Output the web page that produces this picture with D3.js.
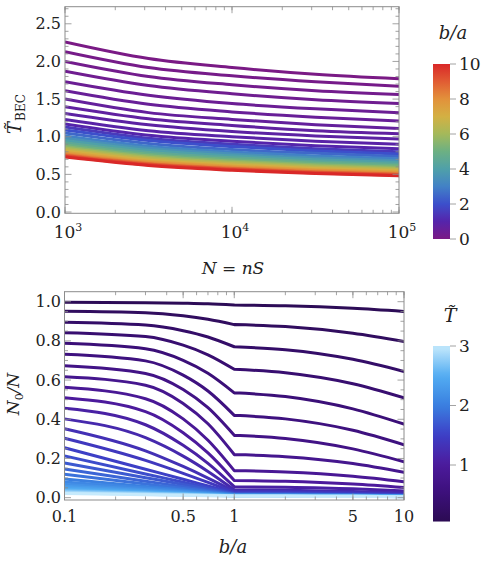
<!DOCTYPE html>
<html><head><meta charset="utf-8">
<script src="https://cdn.jsdelivr.net/npm/d3@7"></script>
<style>
body{margin:0;background:#fff}
svg text{fill:#222;font-family:"DejaVu Serif","Liberation Serif",serif}
</style>
</head><body>
<svg id="c" width="488" height="563"></svg>
<script>
// ---------- DATA: top panel ----------
const sizeN = [1000, 3162, 10000, 31623, 100000];
const ratioBA = [0,0.1,0.2,0.3,0.4,0.5,0.6,0.7,0.8,0.9,1.0,1.5,2,2.5,3,3.5,4,4.5,5,5.5,6,6.5,7,7.5,8,8.5,9,9.5,10];
const tBEC = [
[2.26,2.04,1.92,1.83,1.77],
[2.13,1.92,1.81,1.73,1.67],
[2.00,1.80,1.69,1.61,1.56],
[1.87,1.68,1.57,1.49,1.44],
[1.73,1.55,1.44,1.37,1.32],
[1.61,1.43,1.33,1.26,1.21],
[1.50,1.32,1.23,1.16,1.11],
[1.40,1.24,1.15,1.08,1.04],
[1.31,1.16,1.07,1.01,0.97],
[1.23,1.08,1.00,0.94,0.90],
[1.17,1.02,0.94,0.88,0.84],
[1.13,0.98,0.90,0.84,0.80],
[1.09,0.95,0.87,0.81,0.77],
[1.05,0.91,0.83,0.78,0.738],
[1.01,0.874,0.798,0.743,0.707],
[0.98,0.846,0.771,0.718,0.682],
[0.95,0.819,0.746,0.694,0.659],
[0.92,0.792,0.721,0.669,0.635],
[0.895,0.769,0.699,0.649,0.615],
[0.87,0.746,0.678,0.628,0.595],
[0.85,0.728,0.660,0.612,0.579],
[0.83,0.710,0.643,0.595,0.563],
[0.81,0.692,0.626,0.579,0.547],
[0.79,0.673,0.609,0.562,0.531],
[0.775,0.660,0.596,0.550,0.519],
[0.76,0.646,0.582,0.536,0.506],
[0.75,0.637,0.574,0.528,0.498],
[0.74,0.627,0.564,0.519,0.489],
[0.73,0.618,0.555,0.51,0.48]
];
const topYTicks = [0,0.5,1,1.5,2,2.5];
const topYLabels = ["0.0","0.5","1.0","1.5","2.0","2.5"];
const topXTicks = [1e3,1e4,1e5];
const topXExp = ["3","4","5"];
const cbTopTicks = [0,2,4,6,8,10];
const rainbowColors = ["#7a1a85","#5524ab","#3c4fcb","#4281c6","#4fa0a9","#6cb083","#a4b95a","#d3b043","#e2913b","#e15c33","#d92828"];

// ---------- DATA: bottom panel ----------
const tempT = [0.1,0.2,0.3,0.4,0.5,0.6,0.7,0.8,0.9,1.0,1.1,1.2,1.3,1.4,1.5,1.6,1.7,1.8,1.9,2.0,2.1,2.2,2.3,2.4,2.5,2.6,2.7,2.8,2.9,3.0];
const baLeft = [0.1,0.3,0.5,0.7,1];
const baRight = [1,2,5,10];
const n0Left = [
[0.997,0.995,0.992,0.989,0.983],
[0.951,0.944,0.928,0.910,0.883],
[0.895,0.881,0.852,0.820,0.770],
[0.842,0.822,0.778,0.729,0.655],
[0.788,0.760,0.701,0.635,0.535],
[0.732,0.698,0.625,0.544,0.420],
[0.673,0.634,0.552,0.459,0.318],
[0.617,0.574,0.481,0.377,0.220],
[0.563,0.505,0.402,0.293,0.138],
[0.510,0.439,0.331,0.228,0.088],
[0.456,0.372,0.267,0.175,0.056],
[0.402,0.306,0.212,0.134,0.040],
[0.352,0.239,0.159,0.100,0.033],
[0.303,0.190,0.124,0.078,0.028],
[0.255,0.145,0.094,0.060,0.024],
[0.213,0.121,0.079,0.051,0.021],
[0.177,0.102,0.067,0.043,0.019],
[0.146,0.084,0.056,0.037,0.017],
[0.119,0.070,0.047,0.032,0.016],
[0.095,0.057,0.039,0.027,0.015],
[0.080,0.049,0.034,0.024,0.014],
[0.068,0.042,0.030,0.022,0.013],
[0.058,0.036,0.026,0.019,0.012],
[0.050,0.031,0.023,0.017,0.011],
[0.043,0.028,0.021,0.016,0.011],
[0.037,0.024,0.018,0.014,0.010],
[0.032,0.022,0.017,0.013,0.010],
[0.028,0.019,0.015,0.012,0.009],
[0.024,0.017,0.013,0.011,0.009],
[0.021,0.015,0.012,0.010,0.008]
];
const n0Right = [
[0.983,0.979,0.966,0.950],
[0.883,0.873,0.839,0.797],
[0.770,0.755,0.706,0.644],
[0.655,0.637,0.581,0.509],
[0.535,0.516,0.453,0.375],
[0.420,0.402,0.344,0.270],
[0.318,0.302,0.249,0.183],
[0.220,0.209,0.174,0.129],
[0.138,0.131,0.109,0.081],
[0.088,0.084,0.070,0.052],
[0.056,0.053,0.045,0.034],
[0.040,0.038,0.032,0.024],
[0.033,0.031,0.026,0.019],
[0.028,0.027,0.022,0.016],
[0.024,0.023,0.019,0.014],
[0.021,0.020,0.016,0.012],
[0.019,0.018,0.015,0.011],
[0.017,0.016,0.013,0.010],
[0.016,0.015,0.012,0.009],
[0.015,0.014,0.012,0.009],
[0.014,0.013,0.011,0.008],
[0.013,0.012,0.010,0.008],
[0.012,0.011,0.009,0.007],
[0.011,0.010,0.009,0.007],
[0.011,0.010,0.008,0.006],
[0.010,0.009,0.008,0.006],
[0.010,0.009,0.007,0.006],
[0.009,0.008,0.007,0.005],
[0.009,0.008,0.007,0.005],
[0.008,0.007,0.006,0.005]
];
const botYTicks = [0,0.2,0.4,0.6,0.8,1.0];
const botYLabels = ["0.0","0.2","0.4","0.6","0.8","1.0"];
const botXTicks = [0.1,0.5,1,5,10];
const botXLabels = ["0.1","0.5","1","5","10"];
const cbBotTicks = [1,2,3];
const deepSeaStops = [0,0.5,1,1.5,2,2.5,3];
const deepSeaColors = ["#2a0b4f","#3b0f78","#4c1a9c","#3d3fc6","#3a7fe0","#52acf2","#c6eafc"];

// ---------- DRAW ----------
const svg = d3.select("#c");
const defs = svg.append("defs");
const frameCol = "#8c8c8c";

const rainbow = d3.scaleLinear().domain(d3.range(11)).range(rainbowColors).interpolate(d3.interpolateRgb);
const deepSea = d3.scaleLinear().domain(deepSeaStops).range(deepSeaColors).interpolate(d3.interpolateRgb);

function logMinor(lo, hi){
  const out=[];
  for(let e=Math.floor(Math.log10(lo)); e<=Math.ceil(Math.log10(hi)); e++){
    for(let k=1;k<10;k++){const v=k*Math.pow(10,e); if(v>=lo*0.999 && v<=hi*1.001) out.push(v);}
  }
  return out;
}

function drawFrame(g, x, y, xMaj, xMin, yMaj, yMin, id){
  const [x0,x1]=x.range(), [y0,y1]=y.range();
  defs.append("clipPath").attr("id",id).append("rect")
    .attr("x",x0).attr("y",y1).attr("width",x1-x0).attr("height",y0-y1);
  const t = g.append("g").attr("stroke",frameCol).attr("stroke-width",0.8);
  xMin.forEach(v=>{const px=x(v);
    t.append("line").attr("x1",px).attr("x2",px).attr("y1",y0).attr("y2",y0-3.5);
    t.append("line").attr("x1",px).attr("x2",px).attr("y1",y1).attr("y2",y1+3.5);});
  xMaj.forEach(v=>{const px=x(v);
    t.append("line").attr("x1",px).attr("x2",px).attr("y1",y0).attr("y2",y0-6.5);
    t.append("line").attr("x1",px).attr("x2",px).attr("y1",y1).attr("y2",y1+6.5);});
  yMin.forEach(v=>{const py=y(v);
    t.append("line").attr("x1",x0).attr("x2",x0+3.5).attr("y1",py).attr("y2",py);
    t.append("line").attr("x1",x1).attr("x2",x1-3.5).attr("y1",py).attr("y2",py);});
  yMaj.forEach(v=>{const py=y(v);
    t.append("line").attr("x1",x0).attr("x2",x0+6.5).attr("y1",py).attr("y2",py);
    t.append("line").attr("x1",x1).attr("x2",x1-6.5).attr("y1",py).attr("y2",py);});
  g.append("rect").attr("x",x0).attr("y",y1).attr("width",x1-x0).attr("height",y0-y1)
    .attr("fill","none").attr("stroke",frameCol).attr("stroke-width",1);
}

// ===== TOP PANEL =====
const xT = d3.scaleLog().domain([1e3,1e5]).range([65,399]);
const yT = d3.scaleLinear().domain([-0.017,2.727]).range([213.3,6.7]);
const gT = svg.append("g");
const topMinorY = d3.range(0,2.71,0.1).filter(v=>Math.abs(v*2-Math.round(v*2))>1e-6);
const linesT = gT.append("g").attr("clip-path","url(#clipT)");
const lineT = d3.line().x((d,i)=>xT(sizeN[i])).y(d=>yT(d)).curve(d3.curveMonotoneX);
tBEC.forEach((vals,k)=>{
  linesT.append("path").attr("d",lineT(vals)).attr("fill","none")
    .attr("stroke",rainbow(ratioBA[k])).attr("stroke-width",3);
});
drawFrame(gT,xT,yT,topXTicks,logMinor(1e3,1e5),topYTicks,topMinorY,"clipT");
topYTicks.forEach((v,i)=>{
  gT.append("text").attr("x",61).attr("y",yT(v)).attr("dy","0.35em")
    .attr("text-anchor","end").attr("font-size",16).text(topYLabels[i]);
});
topXTicks.forEach((v,i)=>{
  const t=gT.append("text").attr("x",xT(v)+3).attr("y",238).attr("text-anchor","middle").attr("font-size",17);
  t.append("tspan").text("10");
  t.append("tspan").attr("dy",-7).attr("font-size",11).text(topXExp[i]);
});
// x label N = nS
{
  const t=svg.append("text").attr("x",233).attr("y",274).attr("text-anchor","middle").attr("font-size",17);
  t.append("tspan").attr("font-style","italic").text("N");
  t.append("tspan").text(" = ");
  t.append("tspan").attr("font-style","italic").text("nS");
}
// y label T~_BEC
{
  const g=svg.append("g").attr("transform","translate(21,114) rotate(-90)");
  const t=g.append("text").attr("x",0).attr("y",0).attr("font-size",18).attr("text-anchor","middle");
  t.append("tspan").attr("font-style","italic").text("T\u0303");
  t.append("tspan").attr("dy",4).attr("dx",1).attr("font-size",12).text("BEC");
}
// top colorbar
{
  const cbY = d3.scaleLinear().domain([0,10]).range([239,64]);
  const grad = defs.append("linearGradient").attr("id","gradTop").attr("x1",0).attr("y1",1).attr("x2",0).attr("y2",0);
  d3.range(0,10.01,0.5).forEach(v=>grad.append("stop").attr("offset",v/10).attr("stop-color",rainbow(v)));
  svg.append("rect").attr("x",433).attr("y",cbY(10)).attr("width",17).attr("height",cbY(0)-cbY(10)).attr("fill","url(#gradTop)");
  cbTopTicks.forEach(v=>{
    svg.append("line").attr("x1",450).attr("x2",456).attr("y1",cbY(v)).attr("y2",cbY(v)).attr("stroke",frameCol).attr("stroke-width",0.8);
    svg.append("text").attr("x",459).attr("y",cbY(v)).attr("dy","0.35em").attr("font-size",17).text(String(v));
  });
  svg.append("text").attr("x",453).attr("y",39).attr("text-anchor","middle").attr("font-size",18).attr("font-style","italic").text("b/a");
}

// ===== BOTTOM PANEL =====
const xB = d3.scaleLog().domain([0.1,10]).range([64.5,404]);
const yB = d3.scaleLinear().domain([-0.012,1.051]).range([500,291.7]);
const gB = svg.append("g");
const botMinorY = d3.range(0,1.05,0.05).filter(v=>Math.abs(v*5-Math.round(v*5))>1e-6);
const linesB = gB.append("g").attr("clip-path","url(#clipB)");
const lineL = d3.line().x((d,i)=>xB(baLeft[i])).y(d=>yB(d)).curve(d3.curveMonotoneX);
const lineR = d3.line().x((d,i)=>xB(baRight[i])).y(d=>yB(d)).curve(d3.curveMonotoneX);
tempT.forEach((T,k)=>{
  linesB.append("path").attr("d",lineL(n0Left[k])+lineR(n0Right[k])).attr("fill","none")
    .attr("stroke",deepSea(T)).attr("stroke-width",3).attr("stroke-linejoin","round").attr("stroke-linecap","round");
});
drawFrame(gB,xB,yB,botXTicks,logMinor(0.1,10),botYTicks,botMinorY,"clipB");
botYTicks.forEach((v,i)=>{
  gB.append("text").attr("x",61).attr("y",yB(v)).attr("dy","0.35em")
    .attr("text-anchor","end").attr("font-size",16).text(botYLabels[i]);
});
botXTicks.forEach((v,i)=>{
  gB.append("text").attr("x",xB(v)).attr("y",522).attr("text-anchor","middle").attr("font-size",16).text(botXLabels[i]);
});
svg.append("text").attr("x",233).attr("y",553).attr("text-anchor","middle").attr("font-size",18).attr("font-style","italic").text("b/a");
{
  const g=svg.append("g").attr("transform","translate(19,394) rotate(-90)");
  const t=g.append("text").attr("text-anchor","middle").attr("font-size",17);
  t.append("tspan").attr("font-style","italic").text("N");
  t.append("tspan").attr("dy",4).attr("font-size",11).text("0");
  t.append("tspan").attr("dy",-4).attr("font-style","italic").text("/N");
}
// bottom colorbar
{
  const cbY = d3.scaleLinear().domain([0,3]).range([524.5,346]);
  const grad = defs.append("linearGradient").attr("id","gradBot").attr("x1",0).attr("y1",1).attr("x2",0).attr("y2",0);
  d3.range(0.05,3.001,0.1).forEach(v=>grad.append("stop").attr("offset",(v-0.05)/2.95).attr("stop-color",deepSea(v)));
  svg.append("rect").attr("x",433).attr("y",cbY(3)).attr("width",17).attr("height",cbY(0.05)-cbY(3)).attr("fill","url(#gradBot)");
  cbBotTicks.forEach(v=>{
    svg.append("line").attr("x1",450).attr("x2",456).attr("y1",cbY(v)).attr("y2",cbY(v)).attr("stroke",frameCol).attr("stroke-width",0.8);
    svg.append("text").attr("x",459).attr("y",cbY(v)).attr("dy","0.35em").attr("font-size",17).text(String(v));
  });
  svg.append("text").attr("x",450).attr("y",322).attr("text-anchor","middle").attr("font-size",19).attr("font-style","italic").text("T\u0303");
}
</script>
</body></html>
